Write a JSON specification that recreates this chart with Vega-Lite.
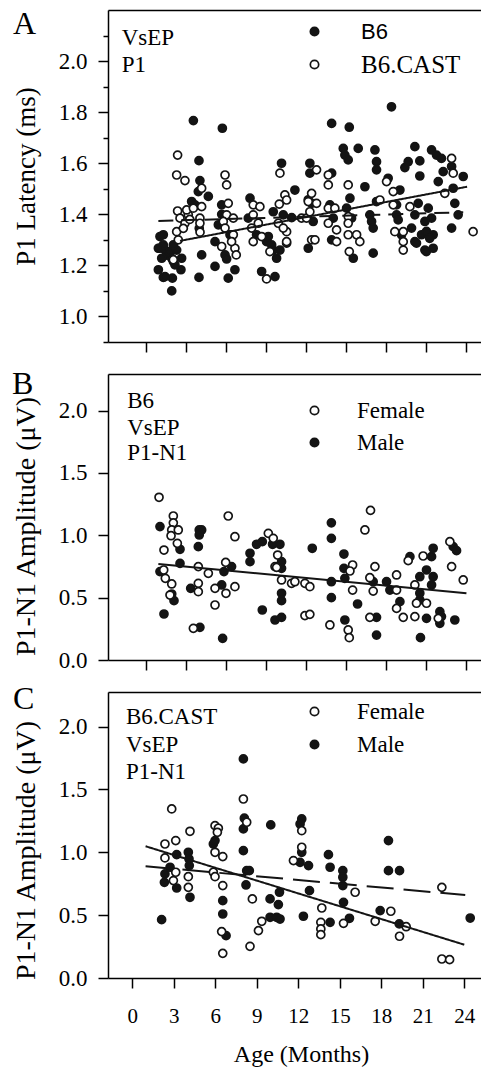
{
  "$schema": "https://vega.github.io/schema/vega-lite/v6.json",
  "padding": {"left": 12, "top": 7, "right": 0, "bottom": 2},
  "background": "white",
  "spacing": 32,
  "bounds": "flush",
  "resolve": {"scale": {"fill": "independent", "strokeDash": "independent", "x": "independent", "y": "independent"}, "legend": {"fill": "independent"}},
  "config": {
    "view": {"stroke": null},
    "font": "Liberation Serif",
    "axis": {"domainColor": "#000", "domainWidth": 1.5, "tickColor": "#000", "tickWidth": 1.5, "grid": false, "labelFont": "Liberation Serif", "labelColor": "#000", "titleFont": "Liberation Serif", "titleFontWeight": "normal", "titleColor": "#000", "labelFlush": false, "labelOverlap": false, "labelBound": false},
    "legend": {"labelFont": "Liberation Serif", "labelColor": "#000", "padding": 0}
  },
  "datasets": {
    "ptsA": [
      {"group":"B6","month":0.95,"value":1.183},{"group":"B6","month":1.07,"value":1.313},{"group":"B6","month":1.32,"value":1.32},{"group":"B6","month":1.02,"value":1.267},{"group":"B6","month":1.45,"value":1.26},{"group":"B6","month":1.57,"value":1.24},{"group":"B6","month":1.32,"value":1.153},{"group":"B6","month":1.95,"value":1.10},{"group":"B6","month":2.0,"value":1.15},{"group":"B6","month":2.07,"value":1.215},{"group":"B6","month":1.82,"value":1.254},{"group":"B6","month":2.32,"value":1.26},{"group":"B6","month":2.69,"value":1.228},{"group":"B6","month":2.64,"value":1.183},{"group":"B6","month":1.2,"value":1.228},{"group":"B6","month":1.95,"value":1.228},{"group":"B6","month":1.32,"value":1.28},{"group":"B6","month":2.07,"value":1.28},{"group":"B6","month":1.45,"value":1.156},{"group":"B6","month":0.95,"value":1.267},{"group":"B6","month":2.19,"value":1.202},
      {"group":"B6","month":3.57,"value":1.767},{"group":"B6","month":3.99,"value":1.61},{"group":"B6","month":4.06,"value":1.532},{"group":"B6","month":3.44,"value":1.45},{"group":"B6","month":3.94,"value":1.489},{"group":"B6","month":4.69,"value":1.47},{"group":"B6","month":4.19,"value":1.241},{"group":"B6","month":3.99,"value":1.153},{"group":"B6","month":4.01,"value":1.345},{"group":"B6","month":3.69,"value":1.437},
      {"group":"B6","month":5.74,"value":1.737},{"group":"B6","month":5.19,"value":1.293},{"group":"B6","month":5.19,"value":1.196},{"group":"B6","month":5.69,"value":1.40},{"group":"B6","month":5.94,"value":1.241},{"group":"B6","month":6.18,"value":1.15},{"group":"B6","month":6.68,"value":1.183},{"group":"B6","month":6.31,"value":1.32},{"group":"B6","month":5.44,"value":1.359},{"group":"B6","month":5.69,"value":1.437},{"group":"B6","month":6.06,"value":1.225},
      {"group":"B6","month":7.81,"value":1.463},{"group":"B6","month":7.68,"value":1.385},{"group":"B6","month":8.3,"value":1.32},{"group":"B6","month":8.68,"value":1.176},{"group":"B6","month":9.05,"value":1.293},{"group":"B6","month":9.18,"value":1.313},{"group":"B6","month":9.68,"value":1.156},{"group":"B6","month":9.55,"value":1.26},{"group":"B6","month":9.8,"value":1.228},{"group":"B6","month":10.05,"value":1.26},{"group":"B6","month":10.17,"value":1.60},{"group":"B6","month":10.3,"value":1.398},{"group":"B6","month":9.55,"value":1.41},{"group":"B6","month":9.43,"value":1.28},{"group":"B6","month":10.55,"value":1.287},{"group":"B6","month":10.93,"value":1.387},{"group":"B6","month":11.17,"value":1.495},
      {"group":"B6","month":12.29,"value":1.60},{"group":"B6","month":12.29,"value":1.561},{"group":"B6","month":12.42,"value":1.443},{"group":"B6","month":12.17,"value":1.267},{"group":"B6","month":12.54,"value":1.372},{"group":"B6","month":12.17,"value":1.457},
      {"group":"B6","month":13.92,"value":1.756},{"group":"B6","month":13.92,"value":1.561},{"group":"B6","month":13.79,"value":1.437},{"group":"B6","month":13.92,"value":1.30},{"group":"B6","month":14.04,"value":1.385},{"group":"B6","month":14.79,"value":1.658},{"group":"B6","month":14.91,"value":1.632},{"group":"B6","month":15.24,"value":1.741},{"group":"B6","month":15.16,"value":1.613},{"group":"B6","month":15.29,"value":1.463},{"group":"B6","month":15.04,"value":1.424},{"group":"B6","month":15.54,"value":1.228},{"group":"B6","month":15.41,"value":1.385},{"group":"B6","month":15.91,"value":1.658},{"group":"B6","month":16.41,"value":1.508},
      {"group":"B6","month":17.16,"value":1.652},{"group":"B6","month":17.28,"value":1.606},{"group":"B6","month":17.28,"value":1.574},{"group":"B6","month":16.78,"value":1.398},{"group":"B6","month":16.91,"value":1.372},{"group":"B6","month":17.03,"value":1.346},{"group":"B6","month":17.03,"value":1.248},{"group":"B6","month":17.28,"value":1.45},
      {"group":"B6","month":18.4,"value":1.821},{"group":"B6","month":18.15,"value":1.541},{"group":"B6","month":18.78,"value":1.398},{"group":"B6","month":18.9,"value":1.378},{"group":"B6","month":19.03,"value":1.495},{"group":"B6","month":19.15,"value":1.32},{"group":"B6","month":18.78,"value":1.437},{"group":"B6","month":19.4,"value":1.583},{"group":"B6","month":19.65,"value":1.606},{"group":"B6","month":20.15,"value":1.665},{"group":"B6","month":20.52,"value":1.609},{"group":"B6","month":20.52,"value":1.55},{"group":"B6","month":20.4,"value":1.443},{"group":"B6","month":20.15,"value":1.398},{"group":"B6","month":19.9,"value":1.346},{"group":"B6","month":20.15,"value":1.293},{"group":"B6","month":20.9,"value":1.26},{"group":"B6","month":20.65,"value":1.32},{"group":"B6","month":21.15,"value":1.424},{"group":"B6","month":21.4,"value":1.385},{"group":"B6","month":21.52,"value":1.32},{"group":"B6","month":21.52,"value":1.267},{"group":"B6","month":21.4,"value":1.652},{"group":"B6","month":21.77,"value":1.632},{"group":"B6","month":22.14,"value":1.619},{"group":"B6","month":21.9,"value":1.528},{"group":"B6","month":22.27,"value":1.567},{"group":"B6","month":22.9,"value":1.587},{"group":"B6","month":23.02,"value":1.502},{"group":"B6","month":23.14,"value":1.443},{"group":"B6","month":22.9,"value":1.346},{"group":"B6","month":23.39,"value":1.398},{"group":"B6","month":23.77,"value":1.548},{"group":"B6","month":20.9,"value":1.372},{"group":"B6","month":21.02,"value":1.333},{"group":"B6","month":20.27,"value":1.287},{"group":"B6","month":21.01,"value":1.254},{"group":"B6","month":21.26,"value":1.306},
      {"group":"B6.CAST","month":2.39,"value":1.632},{"group":"B6.CAST","month":2.32,"value":1.554},{"group":"B6.CAST","month":2.94,"value":1.532},{"group":"B6.CAST","month":2.39,"value":1.413},{"group":"B6.CAST","month":2.32,"value":1.332},{"group":"B6.CAST","month":2.44,"value":1.30},{"group":"B6.CAST","month":2.07,"value":1.222},{"group":"B6.CAST","month":2.57,"value":1.385},{"group":"B6.CAST","month":2.94,"value":1.365},{"group":"B6.CAST","month":3.19,"value":1.398},{"group":"B6.CAST","month":3.07,"value":1.417},{"group":"B6.CAST","month":3.57,"value":1.424},{"group":"B6.CAST","month":4.19,"value":1.502},{"group":"B6.CAST","month":4.19,"value":1.43},{"group":"B6.CAST","month":4.06,"value":1.385},{"group":"B6.CAST","month":4.06,"value":1.365},{"group":"B6.CAST","month":2.82,"value":1.345},{"group":"B6.CAST","month":3.3,"value":1.38},{"group":"B6.CAST","month":4.07,"value":1.33},
      {"group":"B6.CAST","month":5.94,"value":1.554},{"group":"B6.CAST","month":6.06,"value":1.515},{"group":"B6.CAST","month":6.18,"value":1.443},{"group":"B6.CAST","month":6.06,"value":1.398},{"group":"B6.CAST","month":5.81,"value":1.372},{"group":"B6.CAST","month":5.94,"value":1.346},{"group":"B6.CAST","month":5.69,"value":1.274},{"group":"B6.CAST","month":6.56,"value":1.385},{"group":"B6.CAST","month":6.56,"value":1.32},{"group":"B6.CAST","month":6.68,"value":1.267},{"group":"B6.CAST","month":6.43,"value":1.293},{"group":"B6.CAST","month":6.78,"value":1.241},
      {"group":"B6.CAST","month":8.05,"value":1.437},{"group":"B6.CAST","month":8.05,"value":1.398},{"group":"B6.CAST","month":7.93,"value":1.346},{"group":"B6.CAST","month":8.05,"value":1.293},{"group":"B6.CAST","month":8.55,"value":1.43},{"group":"B6.CAST","month":8.43,"value":1.365},{"group":"B6.CAST","month":8.68,"value":1.313},{"group":"B6.CAST","month":9.05,"value":1.147},{"group":"B6.CAST","month":9.3,"value":1.254},{"group":"B6.CAST","month":10.05,"value":1.561},{"group":"B6.CAST","month":10.0,"value":1.44},{"group":"B6.CAST","month":9.93,"value":1.365},{"group":"B6.CAST","month":10.42,"value":1.476},{"group":"B6.CAST","month":10.55,"value":1.456},{"group":"B6.CAST","month":10.55,"value":1.332},{"group":"B6.CAST","month":10.55,"value":1.293},{"group":"B6.CAST","month":10.3,"value":1.346},
      {"group":"B6.CAST","month":11.67,"value":1.385},{"group":"B6.CAST","month":12.04,"value":1.385},{"group":"B6.CAST","month":12.42,"value":1.482},{"group":"B6.CAST","month":12.17,"value":1.45},{"group":"B6.CAST","month":12.29,"value":1.41},{"group":"B6.CAST","month":12.42,"value":1.30},{"group":"B6.CAST","month":12.67,"value":1.30},{"group":"B6.CAST","month":12.79,"value":1.574},{"group":"B6.CAST","month":12.79,"value":1.443},
      {"group":"B6.CAST","month":13.67,"value":1.554},{"group":"B6.CAST","month":13.67,"value":1.515},{"group":"B6.CAST","month":13.67,"value":1.424},{"group":"B6.CAST","month":13.67,"value":1.365},{"group":"B6.CAST","month":14.29,"value":1.339},{"group":"B6.CAST","month":14.16,"value":1.424},{"group":"B6.CAST","month":14.29,"value":1.293},{"group":"B6.CAST","month":15.16,"value":1.515},{"group":"B6.CAST","month":15.16,"value":1.391},{"group":"B6.CAST","month":15.16,"value":1.365},{"group":"B6.CAST","month":15.16,"value":1.32},{"group":"B6.CAST","month":15.24,"value":1.254},{"group":"B6.CAST","month":15.79,"value":1.32},{"group":"B6.CAST","month":16.03,"value":1.293},
      {"group":"B6.CAST","month":17.53,"value":1.456},{"group":"B6.CAST","month":18.03,"value":1.528},{"group":"B6.CAST","month":18.53,"value":1.489},{"group":"B6.CAST","month":18.53,"value":1.437},{"group":"B6.CAST","month":18.65,"value":1.332},{"group":"B6.CAST","month":19.28,"value":1.332},{"group":"B6.CAST","month":19.28,"value":1.293},{"group":"B6.CAST","month":19.28,"value":1.26},{"group":"B6.CAST","month":19.78,"value":1.43},{"group":"B6.CAST","month":22.9,"value":1.619},{"group":"B6.CAST","month":23.02,"value":1.561},{"group":"B6.CAST","month":22.39,"value":1.482},{"group":"B6.CAST","month":24.51,"value":1.332}
    ],
    "fitA": [
      {"fit":"B6.CAST fit","month":2.57,"value":1.296},{"fit":"B6.CAST fit","month":24.06,"value":1.508},
      {"fit":"B6 fit","month":0.95,"value":1.374},{"fit":"B6 fit","month":23.77,"value":1.408}
    ],
    "txtA": [
      {"label":"VsEP","size":"note","month":-1.8,"value":2.063},{"label":"P1","size":"note","month":-1.8,"value":1.958},{"label":"A","size":"panel","month":-9.93,"value":2.107}
    ],
    "ptsB": [
      {"group":"Male","month":1.07,"value":1.07},{"group":"Male","month":1.07,"value":0.709},{"group":"Male","month":1.37,"value":0.369},{"group":"Male","month":1.95,"value":0.529},{"group":"Male","month":2.12,"value":0.476},{"group":"Male","month":2.57,"value":0.888},{"group":"Male","month":2.57,"value":0.775},{"group":"Male","month":3.37,"value":0.575},{"group":"Male","month":4.01,"value":1.043},{"group":"Male","month":4.19,"value":1.043},{"group":"Male","month":4.01,"value":1.003},{"group":"Male","month":3.94,"value":0.909},{"group":"Male","month":4.06,"value":0.262},{"group":"Male","month":5.76,"value":0.174},{"group":"Male","month":5.69,"value":0.602},{"group":"Male","month":5.86,"value":0.709},{"group":"Male","month":6.43,"value":0.749},{"group":"Male","month":7.81,"value":0.856},{"group":"Male","month":7.81,"value":0.789},{"group":"Male","month":8.3,"value":0.928},{"group":"Male","month":8.73,"value":0.949},{"group":"Male","month":8.73,"value":0.401},{"group":"Male","month":9.5,"value":0.928},{"group":"Male","month":9.68,"value":0.321},{"group":"Male","month":10.05,"value":0.928},{"group":"Male","month":10.17,"value":0.789},{"group":"Male","month":10.17,"value":0.735},{"group":"Male","month":10.17,"value":0.535},{"group":"Male","month":10.17,"value":0.476},{"group":"Male","month":10.17,"value":0.342},{"group":"Male","month":12.47,"value":0.896},{"group":"Male","month":13.9,"value":1.10},{"group":"Male","month":13.9,"value":0.976},{"group":"Male","month":13.9,"value":0.628},{"group":"Male","month":13.9,"value":0.50},{"group":"Male","month":14.84,"value":0.85},{"group":"Male","month":14.84,"value":0.735},{"group":"Male","month":14.91,"value":0.655},{"group":"Male","month":14.91,"value":0.321},{"group":"Male","month":15.86,"value":0.449},{"group":"Male","month":17.03,"value":0.628},{"group":"Male","month":17.28,"value":0.342},{"group":"Male","month":17.28,"value":0.20},{"group":"Male","month":18.03,"value":0.628},{"group":"Male","month":18.28,"value":0.561},{"group":"Male","month":19.03,"value":0.468},{"group":"Male","month":19.78,"value":0.829},{"group":"Male","month":20.52,"value":0.668},{"group":"Male","month":20.52,"value":0.535},{"group":"Male","month":20.52,"value":0.481},{"group":"Male","month":20.57,"value":0.179},{"group":"Male","month":21.02,"value":0.722},{"group":"Male","month":21.02,"value":0.334},{"group":"Male","month":21.4,"value":0.829},{"group":"Male","month":21.52,"value":0.896},{"group":"Male","month":21.52,"value":0.668},{"group":"Male","month":21.4,"value":0.602},{"group":"Male","month":22.02,"value":0.388},{"group":"Male","month":22.02,"value":0.294},{"group":"Male","month":22.14,"value":0.348},{"group":"Male","month":23.02,"value":0.909},{"group":"Male","month":23.27,"value":0.877},{"group":"Male","month":23.14,"value":0.321},
      {"group":"Female","month":1.0,"value":1.305},{"group":"Female","month":1.37,"value":0.882},{"group":"Female","month":2.07,"value":1.155},{"group":"Female","month":2.07,"value":1.10},{"group":"Female","month":1.95,"value":1.043},{"group":"Female","month":1.9,"value":0.997},{"group":"Female","month":2.44,"value":1.043},{"group":"Female","month":2.37,"value":0.936},{"group":"Female","month":1.35,"value":0.722},{"group":"Female","month":1.47,"value":0.655},{"group":"Female","month":1.95,"value":0.61},{"group":"Female","month":1.82,"value":0.521},{"group":"Female","month":3.57,"value":0.254},{"group":"Female","month":3.94,"value":0.749},{"group":"Female","month":3.94,"value":0.615},{"group":"Female","month":3.94,"value":0.548},{"group":"Female","month":4.69,"value":0.695},{"group":"Female","month":5.19,"value":0.575},{"group":"Female","month":5.19,"value":0.441},{"group":"Female","month":5.99,"value":0.783},{"group":"Female","month":6.01,"value":0.535},{"group":"Female","month":6.18,"value":1.155},{"group":"Female","month":6.68,"value":0.989},{"group":"Female","month":6.68,"value":0.588},{"group":"Female","month":9.18,"value":1.016},{"group":"Female","month":9.55,"value":0.976},{"group":"Female","month":9.88,"value":0.842},{"group":"Female","month":9.68,"value":0.749},{"group":"Female","month":9.8,"value":0.743},{"group":"Female","month":10.17,"value":0.642},{"group":"Female","month":10.92,"value":0.615},{"group":"Female","month":11.17,"value":0.628},{"group":"Female","month":11.92,"value":0.615},{"group":"Female","month":12.29,"value":0.588},{"group":"Female","month":11.92,"value":0.356},{"group":"Female","month":12.29,"value":0.366},{"group":"Female","month":13.79,"value":0.281},{"group":"Female","month":15.16,"value":0.241},{"group":"Female","month":15.24,"value":0.179},{"group":"Female","month":15.49,"value":0.762},{"group":"Female","month":15.29,"value":0.714},{"group":"Female","month":15.49,"value":0.561},{"group":"Female","month":16.41,"value":1.043},{"group":"Female","month":16.83,"value":1.20},{"group":"Female","month":16.78,"value":0.66},{"group":"Female","month":17.16,"value":0.749},{"group":"Female","month":17.03,"value":0.553},{"group":"Female","month":16.78,"value":0.342},{"group":"Female","month":18.78,"value":0.682},{"group":"Female","month":18.78,"value":0.561},{"group":"Female","month":18.78,"value":0.414},{"group":"Female","month":19.28,"value":0.342},{"group":"Female","month":19.65,"value":0.797},{"group":"Female","month":20.15,"value":0.348},{"group":"Female","month":20.15,"value":0.602},{"group":"Female","month":20.27,"value":0.455},{"group":"Female","month":20.77,"value":0.834},{"group":"Female","month":21.02,"value":0.455},{"group":"Female","month":22.77,"value":0.949},{"group":"Female","month":22.9,"value":0.749},{"group":"Female","month":23.77,"value":0.642},{"group":"Female","month":21.9,"value":0.334}
    ],
    "fitB": [
      {"fit":"B6 fit","month":0.95,"value":0.77},{"fit":"B6 fit","month":24.01,"value":0.535}
    ],
    "txtB": [
      {"label":"B6","size":"note","month":-1.38,"value":2.018},{"label":"VsEP","size":"note","month":-1.38,"value":1.805},{"label":"P1-N1","size":"note","month":-1.38,"value":1.604},{"label":"B","size":"panel","month":-10.0,"value":2.136}
    ],
    "ptsC": [
      {"group":"Male","month":2.12,"value":0.464},{"group":"Male","month":2.36,"value":0.828},{"group":"Male","month":2.32,"value":0.761},{"group":"Male","month":2.73,"value":0.881},{"group":"Male","month":3.21,"value":0.981},{"group":"Male","month":3.21,"value":0.716},{"group":"Male","month":4.05,"value":1.0},{"group":"Male","month":4.1,"value":0.947},{"group":"Male","month":4.12,"value":0.894},{"group":"Male","month":4.17,"value":0.642},{"group":"Male","month":5.86,"value":1.066},{"group":"Male","month":5.98,"value":1.093},{"group":"Male","month":6.54,"value":0.615},{"group":"Male","month":6.54,"value":0.509},{"group":"Male","month":6.78,"value":0.337},{"group":"Male","month":8.03,"value":1.743},{"group":"Male","month":8.1,"value":1.271},{"group":"Male","month":8.03,"value":1.186},{"group":"Male","month":8.03,"value":1.013},{"group":"Male","month":8.27,"value":0.854},{"group":"Male","month":8.46,"value":0.854},{"group":"Male","month":8.22,"value":0.74},{"group":"Male","month":10.01,"value":1.218},{"group":"Male","month":9.96,"value":0.629},{"group":"Male","month":9.96,"value":0.483},{"group":"Male","month":10.44,"value":0.483},{"group":"Male","month":10.64,"value":0.682},{"group":"Male","month":10.56,"value":0.584},{"group":"Male","month":10.68,"value":0.469},{"group":"Male","month":12.25,"value":1.265},{"group":"Male","month":12.13,"value":1.225},{"group":"Male","month":12.25,"value":1.0},{"group":"Male","month":12.13,"value":0.92},{"group":"Male","month":12.74,"value":0.894},{"group":"Male","month":12.81,"value":0.695},{"group":"Male","month":12.37,"value":0.491},{"group":"Male","month":14.18,"value":0.981},{"group":"Male","month":14.3,"value":0.881},{"group":"Male","month":14.3,"value":0.443},{"group":"Male","month":15.22,"value":0.854},{"group":"Male","month":15.22,"value":0.801},{"group":"Male","month":15.22,"value":0.735},{"group":"Male","month":15.27,"value":0.602},{"group":"Male","month":15.7,"value":0.475},{"group":"Male","month":17.92,"value":0.536},{"group":"Male","month":18.52,"value":1.093},{"group":"Male","month":18.52,"value":0.854},{"group":"Male","month":19.32,"value":0.854},{"group":"Male","month":19.3,"value":0.43},{"group":"Male","month":24.43,"value":0.477},
      {"group":"Female","month":2.85,"value":1.345},{"group":"Female","month":2.36,"value":1.066},{"group":"Female","month":2.36,"value":0.955},{"group":"Female","month":3.14,"value":1.093},{"group":"Female","month":3.14,"value":0.841},{"group":"Female","month":2.97,"value":0.775},{"group":"Female","month":4.17,"value":1.167},{"group":"Female","month":4.05,"value":0.806},{"group":"Female","month":4.05,"value":0.721},{"group":"Female","month":5.98,"value":1.212},{"group":"Female","month":6.22,"value":1.191},{"group":"Female","month":6.15,"value":1.159},{"group":"Female","month":5.86,"value":0.841},{"group":"Female","month":5.98,"value":0.806},{"group":"Female","month":5.98,"value":1.0},{"group":"Female","month":6.54,"value":0.966},{"group":"Female","month":6.54,"value":0.735},{"group":"Female","month":6.46,"value":0.369},{"group":"Female","month":6.54,"value":0.196},{"group":"Female","month":8.03,"value":1.424},{"group":"Female","month":8.27,"value":1.239},{"group":"Female","month":8.68,"value":0.629},{"group":"Female","month":8.51,"value":0.252},{"group":"Female","month":9.36,"value":0.451},{"group":"Female","month":9.12,"value":0.377},{"group":"Female","month":11.65,"value":0.934},{"group":"Female","month":12.25,"value":1.172},{"group":"Female","month":12.25,"value":1.04},{"group":"Female","month":13.7,"value":0.557},{"group":"Female","month":13.63,"value":0.443},{"group":"Female","month":13.63,"value":0.39},{"group":"Female","month":13.63,"value":0.345},{"group":"Female","month":15.27,"value":0.435},{"group":"Female","month":16.11,"value":0.682},{"group":"Female","month":17.56,"value":0.451},{"group":"Female","month":18.69,"value":0.531},{"group":"Female","month":19.32,"value":0.332},{"group":"Female","month":19.8,"value":0.408},{"group":"Female","month":22.38,"value":0.721},{"group":"Female","month":22.38,"value":0.151},{"group":"Female","month":22.94,"value":0.146}
    ],
    "fitC": [
      {"fit":"Male fit","month":0.96,"value":1.048},{"fit":"Male fit","month":24.0,"value":0.265},
      {"fit":"Female fit","month":0.96,"value":0.889},{"fit":"Female fit","month":24.07,"value":0.66}
    ],
    "txtC": [
      {"label":"B6.CAST","size":"note","month":-0.46,"value":2.021},{"label":"VsEP","size":"note","month":-0.46,"value":1.796},{"label":"P1-N1","size":"note","month":-0.46,"value":1.583},{"label":"C","size":"panel","month":-8.63,"value":2.138}
    ]
  },
  "vconcat": [
    {
      "width": 373, "height": 332,
      "resolve": {"axis": {"x": "independent", "y": "independent"}},
      "layer": [
        {
          "data": {"name": "ptsA"},
          "mark": {"type": "point", "shape": "circle", "filled": true, "size": 64, "stroke": "#141414", "strokeWidth": 1.7, "opacity": 1},
          "encoding": {
            "x": {"field": "month", "type": "quantitative", "scale": {"domain": [-2.82, 25.1], "nice": false, "zero": false},
                  "axis": {"orient": "bottom", "values": [0,3,6,9,12,15,18,21,24], "tickSize": 10, "labels": false, "title": null}},
            "y": {"field": "value", "type": "quantitative", "scale": {"domain": [0.9, 2.2], "nice": false, "zero": false},
                  "axis": {"orient": "left", "title": "P1 Latency (ms)", "titleFont": "Liberation Serif", "titleFontSize": 27, "titleX": -82, "titleY": 166, "titleAngle": 270, "titleAlign": "center", "titleBaseline": "middle",
                           "values": [1.0,1.2,1.4,1.6,1.8,2.0], "format": ".1f",
                           "labelOverlap": false, "labelFont": "Liberation Serif", "labelFontSize": 23,
                           "tickSize": 10, "labelPadding": 11}},
            "fill": {"field": "group", "type": "nominal", "scale": {"domain": ["B6", "B6.CAST"], "range": ["#141414", "#ffffff"]},
                     "legend": {"orient": "none", "legendX": 194, "legendY": 9, "title": null, "symbolType": "circle", "symbolSize": 70, "symbolStrokeColor": "#141414", "symbolStrokeWidth": 1.7, "labelOffset": 34, "rowPadding": 9,
                                "labelFont": {"expr": "datum.value === 'B6' ? 'Liberation Sans' : 'Liberation Serif'"},
                                "labelFontSize": {"expr": "datum.value === 'B6' ? 22 : 25"}}}
          }
        },
        {
          "data": {"name": "fitA"},
          "mark": {"type": "line", "color": "#141414", "strokeWidth": 2},
          "encoding": {
            "x": {"field": "month", "type": "quantitative", "scale": {"domain": [-2.82, 25.1], "nice": false, "zero": false},
                  "axis": {"orient": "top", "ticks": false, "labels": false, "title": null}},
            "y": {"field": "value", "type": "quantitative", "scale": {"domain": [0.9, 2.2], "nice": false, "zero": false},
                  "axis": {"orient": "left", "values": [0.9,1.1,1.3,1.5,1.7,1.9,2.1], "labels": false, "domain": false, "title": null, "tickSize": 5}},
            "detail": {"field": "fit", "type": "nominal"},
            "strokeDash": {"field": "fit", "type": "nominal", "scale": {"domain": ["B6.CAST fit", "B6 fit"], "range": [[1, 0], [15, 8]]}, "legend": null}
          }
        },
        {
          "data": {"name": "txtA"},
          "mark": {"type": "text", "align": "left", "baseline": "alphabetic", "font": "Liberation Serif", "color": "#000"},
          "encoding": {
            "x": {"field": "month", "type": "quantitative", "scale": {"domain": [-2.82, 25.1], "nice": false, "zero": false}, "axis": null},
            "y": {"field": "value", "type": "quantitative", "scale": {"domain": [0.9, 2.2], "nice": false, "zero": false}, "axis": null},
            "text": {"field": "label"},
            "size": {"field": "size", "type": "nominal", "scale": {"domain": ["note", "panel"], "range": [23, 32]}, "legend": null}
          }
        }
      ]
    },
    {
      "width": 373, "height": 286,
      "resolve": {"axis": {"x": "independent"}},
      "layer": [
        {
          "data": {"name": "ptsB"},
          "mark": {"type": "point", "shape": "circle", "filled": true, "size": 64, "stroke": "#141414", "strokeWidth": 1.7, "opacity": 1},
          "encoding": {
            "x": {"field": "month", "type": "quantitative", "scale": {"domain": [-2.82, 25.1], "nice": false, "zero": false},
                  "axis": {"orient": "bottom", "values": [0,3,6,9,12,15,18,21,24], "tickSize": 10, "labels": false, "title": null}},
            "y": {"field": "value", "type": "quantitative", "scale": {"domain": [0, 2.294], "nice": false, "zero": false},
                  "axis": {"title": "P1-N1 Amplitude (μV)", "titleFont": "Liberation Serif", "titleFontSize": 28, "titleX": -82, "titleY": 152, "titleAngle": 270, "titleAlign": "center", "titleBaseline": "middle",
                           "values": [0,0.25,0.5,0.75,1,1.25,1.5,1.75,2,2.25],
                           "labelOverlap": false, "labelFont": "Liberation Serif",
                           "labelExpr": "indexof([0,0.5,1,1.5,2], datum.value) >= 0 ? format(datum.value, '.1f') : ''",
                           "labelFontSize": {"condition": {"test": "indexof([0,0.5,1,1.5,2], datum.value) >= 0", "value": 23}, "value": 1},
                           "tickSize": {"condition": {"test": "indexof([0,0.5,1,1.5,2], datum.value) >= 0", "value": 10}, "value": 5},
                           "labelPadding": 11}},
            "fill": {"field": "group", "type": "nominal", "scale": {"domain": ["Female", "Male"], "range": ["#ffffff", "#141414"]},
                     "legend": {"orient": "none", "legendX": 195, "legendY": 25, "title": null, "symbolType": "circle", "symbolSize": 70, "symbolStrokeColor": "#141414", "symbolStrokeWidth": 1.7, "labelFont": "Liberation Serif", "labelFontSize": 23, "labelOffset": 31, "rowPadding": 8}}
          }
        },
        {
          "data": {"name": "fitB"},
          "mark": {"type": "line", "color": "#141414", "strokeWidth": 2},
          "encoding": {
            "x": {"field": "month", "type": "quantitative", "scale": {"domain": [-2.82, 25.1], "nice": false, "zero": false},
                  "axis": {"orient": "top", "ticks": false, "labels": false, "title": null}},
            "y": {"field": "value", "type": "quantitative", "scale": {"domain": [0, 2.294], "nice": false, "zero": false}}
          }
        },
        {
          "data": {"name": "txtB"},
          "mark": {"type": "text", "align": "left", "baseline": "alphabetic", "font": "Liberation Serif", "color": "#000"},
          "encoding": {
            "x": {"field": "month", "type": "quantitative", "scale": {"domain": [-2.82, 25.1], "nice": false, "zero": false}, "axis": null},
            "y": {"field": "value", "type": "quantitative", "scale": {"domain": [0, 2.294], "nice": false, "zero": false}},
            "text": {"field": "label"},
            "size": {"field": "size", "type": "nominal", "scale": {"domain": ["note", "panel"], "range": [23, 32]}, "legend": null}
          }
        }
      ]
    },
    {
      "width": 373, "height": 286,
      "resolve": {"axis": {"x": "independent"}},
      "layer": [
        {
          "data": {"name": "ptsC"},
          "mark": {"type": "point", "shape": "circle", "filled": true, "size": 64, "stroke": "#141414", "strokeWidth": 1.7, "opacity": 1},
          "encoding": {
            "x": {"field": "month", "type": "quantitative", "scale": {"domain": [-1.757, 25.21], "nice": false, "zero": false},
                  "axis": {"orient": "bottom", "values": [0,3,6,9,12,15,18,21,24], "tickSize": 10, "labelFont": "Liberation Serif", "labelFontSize": 21, "labelBaseline": "alphabetic", "labelPadding": 34,
                           "title": "Age (Months)", "titleFont": "Liberation Serif", "titleFontSize": 24, "titleBaseline": "alphabetic", "titleX": 193, "titleY": 83, "titleAlign": "center"}},
            "y": {"field": "value", "type": "quantitative", "scale": {"domain": [0, 2.275], "nice": false, "zero": false},
                  "axis": {"title": "P1-N1 Amplitude (μV)", "titleFont": "Liberation Serif", "titleFontSize": 28, "titleX": -82, "titleY": 158, "titleAngle": 270, "titleAlign": "center", "titleBaseline": "middle",
                           "values": [0,0.25,0.5,0.75,1,1.25,1.5,1.75,2,2.25],
                           "labelOverlap": false, "labelFont": "Liberation Serif",
                           "labelExpr": "indexof([0,0.5,1,1.5,2], datum.value) >= 0 ? format(datum.value, '.1f') : ''",
                           "labelFontSize": {"condition": {"test": "indexof([0,0.5,1,1.5,2], datum.value) >= 0", "value": 23}, "value": 1},
                           "tickSize": {"condition": {"test": "indexof([0,0.5,1,1.5,2], datum.value) >= 0", "value": 10}, "value": 5},
                           "labelPadding": 11}},
            "fill": {"field": "group", "type": "nominal", "scale": {"domain": ["Female", "Male"], "range": ["#ffffff", "#141414"]},
                     "legend": {"orient": "none", "legendX": 195, "legendY": 8, "title": null, "symbolType": "circle", "symbolSize": 70, "symbolStrokeColor": "#141414", "symbolStrokeWidth": 1.7, "labelFont": "Liberation Serif", "labelFontSize": 23, "labelOffset": 31, "rowPadding": 9}}
          }
        },
        {
          "data": {"name": "fitC"},
          "mark": {"type": "line", "color": "#141414", "strokeWidth": 2},
          "encoding": {
            "x": {"field": "month", "type": "quantitative", "scale": {"domain": [-1.757, 25.21], "nice": false, "zero": false},
                  "axis": {"orient": "top", "ticks": false, "labels": false, "title": null}},
            "y": {"field": "value", "type": "quantitative", "scale": {"domain": [0, 2.275], "nice": false, "zero": false}},
            "detail": {"field": "fit", "type": "nominal"},
            "strokeDash": {"field": "fit", "type": "nominal", "scale": {"domain": ["Male fit", "Female fit"], "range": [[1, 0], [27, 10]]}, "legend": null}
          }
        },
        {
          "data": {"name": "txtC"},
          "mark": {"type": "text", "align": "left", "baseline": "alphabetic", "font": "Liberation Serif", "color": "#000"},
          "encoding": {
            "x": {"field": "month", "type": "quantitative", "scale": {"domain": [-1.757, 25.21], "nice": false, "zero": false}, "axis": null},
            "y": {"field": "value", "type": "quantitative", "scale": {"domain": [0, 2.275], "nice": false, "zero": false}},
            "text": {"field": "label"},
            "size": {"field": "size", "type": "nominal", "scale": {"domain": ["note", "panel"], "range": [23, 32]}, "legend": null}
          }
        }
      ]
    }
  ]
}
